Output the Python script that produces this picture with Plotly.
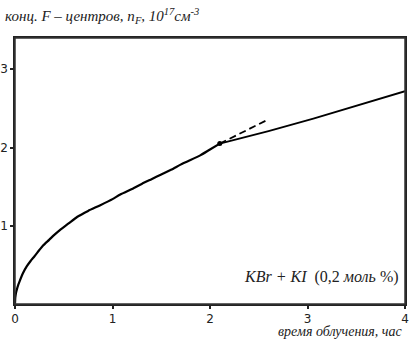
import plotly.graph_objects as go

# Data
t_main = [0, 0.003, 0.01, 0.02, 0.035, 0.05, 0.08, 0.12, 0.16, 0.2, 0.25, 0.29, 0.35, 0.4,
          0.46, 0.55, 0.64, 0.75, 0.87, 1.0, 1.08, 1.2, 1.3, 1.4, 1.5, 1.6, 1.72, 1.8, 1.9, 2.0, 2.1]
n_main = [0, 0.08, 0.14, 0.19, 0.25, 0.3, 0.39, 0.48, 0.55, 0.61, 0.69, 0.75, 0.82, 0.88,
          0.945, 1.03, 1.115, 1.19, 1.26, 1.34, 1.40, 1.47, 1.535, 1.595, 1.655, 1.715, 1.795, 1.84, 1.90, 1.975, 2.05]
t_after = [2.1, 2.6, 3.06, 3.5, 4.0]
n_after = [2.05, 2.21, 2.37, 2.53, 2.72]
t_dash = [2.1, 2.6]
n_dash = [2.05, 2.36]
t_point = [2.1]
n_point = [2.05]
x_ticks = [0, 1, 2, 3, 4]
y_ticks = [1, 2, 3]

fig = go.Figure()
fig.add_trace(go.Scatter(x=t_main, y=n_main, mode="lines",
                         line=dict(color="black", width=2.2, shape="spline", smoothing=0.6), showlegend=False))
fig.add_trace(go.Scatter(x=t_after, y=n_after, mode="lines",
                         line=dict(color="black", width=1.8), showlegend=False))
fig.add_trace(go.Scatter(x=t_dash, y=n_dash, mode="lines",
                         line=dict(color="black", width=1.8, dash="7px,4px"), showlegend=False))
fig.add_trace(go.Scatter(x=t_point, y=n_point, mode="markers",
                         marker=dict(color="black", size=5), showlegend=False))

axis_common = dict(showgrid=False, zeroline=False, showline=True, linecolor="#222", linewidth=1.5,
                   mirror=True, ticks="outside", ticklen=3, tickwidth=1.5, tickcolor="#222", automargin=False,
                   tickfont=dict(family="DejaVu Sans", size=12, color="#222"))

fig.update_layout(
    template="none",
    width=414, height=341,
    margin=dict(l=15, r=9, t=38, b=37),
    paper_bgcolor="white", plot_bgcolor="white",
    showlegend=False,
    xaxis=dict(range=[0, 4], tickvals=x_ticks, ticktext=[str(v) for v in x_ticks], **axis_common),
    yaxis=dict(range=[0, 3.4], tickvals=y_ticks, ticktext=[str(v) for v in y_ticks], **axis_common),
    shapes=[dict(type="rect", xref="paper", yref="paper", x0=0, y0=0, x1=1, y1=1,
                 line=dict(color="#333", width=1.5), fillcolor="rgba(0,0,0,0)", layer="above")],
    annotations=[
        dict(text="<i>конц. F – центров, n<sub>F</sub>, 10<sup>17</sup>см<sup>-3</sup></i>",
             xref="paper", yref="paper", x=-0.03, y=1.0, yshift=34, xanchor="left", yanchor="top",
             showarrow=False, font=dict(family="Liberation Serif", size=15, color="#222")),
        dict(text="<i>время облучения, час</i>",
             xref="paper", yref="paper", x=1.0, y=0, yshift=-18, xanchor="right", yanchor="top",
             showarrow=False, font=dict(family="Liberation Serif", size=14, color="#222")),
        dict(text="<i>KBr + KI</i>  (0,2 <i>моль</i> %)",
             xref="x", yref="y", x=3.96, y=0.345, xanchor="right", yanchor="middle",
             showarrow=False, font=dict(family="Liberation Serif", size=16, color="#222")),
    ],
)

fig.write_html("out.html", config={"displayModeBar": False},
               post_script="document.body.style.margin='0';")
